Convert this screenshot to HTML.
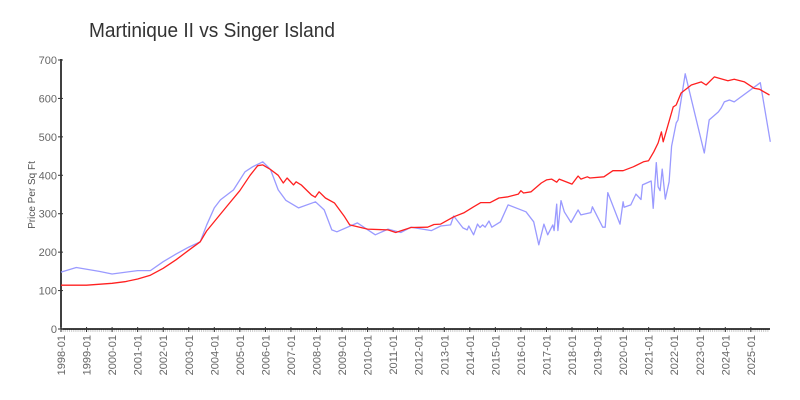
<!DOCTYPE html>
<html><head><meta charset="utf-8"><style>
body{margin:0;background:#fff;}
svg{display:block;font-family:"Liberation Sans Narrow","Liberation Sans",sans-serif;}
</style></head><body>
<svg id="chart" width="800" height="400" viewBox="0 0 800 400">
<text x="89" y="37" font-size="20" fill="#333" font-family="'Liberation Sans', sans-serif" textLength="246" lengthAdjust="spacingAndGlyphs">Martinique II vs Singer Island</text>
<text transform="translate(35,195) rotate(-90)" text-anchor="middle" font-size="10" fill="#555">Price Per Sq Ft</text>
<g id="axes"></g>
<g id="series"></g>
</svg>
<script>
const yTicks=[0,100,200,300,400,500,600,700];
const xYears=[1998,1999,2000,2001,2002,2003,2004,2005,2006,2007,2008,2009,2010,2011,2012,2013,2014,2015,2016,2017,2018,2019,2020,2021,2022,2023,2024,2025];
const martDates=[1998,1999,2000,2000.5,2001,2001.5,2002,2002.5,2003,2003.45,2003.7,2004.5,2005,2005.4,2005.7,2005.9,2006.2,2006.5,2006.7,2006.85,2007.1,2007.2,2007.4,2007.8,2007.95,2008.1,2008.35,2008.7,2009.1,2009.3,2010,2010.8,2011.1,2011.7,2012.35,2012.6,2012.86,2013.37,2013.76,2014.15,2014.43,2014.8,2015.14,2015.5,2015.9,2016,2016.1,2016.4,2016.8,2017,2017.2,2017.4,2017.5,2018,2018.24,2018.35,2018.6,2018.7,2019.25,2019.6,2020,2020.4,2020.8,2021,2021.2,2021.37,2021.5,2021.57,2021.96,2022.08,2022.27,2022.67,2023.06,2023.25,2023.57,2024.1,2024.35,2024.75,2025.14,2025.33,2025.73];
const martVals=[114,114,119,123,130,140,158,180,205,227,255,320,360,400,425,427,415,400,380,393,375,383,375,349,343,357,341,328,292,271,260,258,251,264,265,272,273,292,302,318,329,329,341,344,351,360,354,357,380,388,390,382,390,377,398,390,396,393,396,412,412,422,435,438,461,484,513,487,578,583,614,635,643,635,656,646,650,643,626,624,609];
const singDates=[1998,1998.6,1999.5,2000,2001,2001.5,2002,2002.5,2003,2003.45,2003.7,2004,2004.24,2004.75,2005.2,2005.5,2005.9,2006.2,2006.5,2006.8,2007.3,2007.96,2008.3,2008.6,2008.8,2009.6,2010.3,2010.8,2011.3,2011.7,2012.5,2012.86,2013.25,2013.37,2013.73,2013.9,2013.96,2014.15,2014.3,2014.4,2014.5,2014.6,2014.75,2014.86,2015.2,2015.5,2016.2,2016.5,2016.7,2016.9,2017.05,2017.25,2017.3,2017.4,2017.45,2017.57,2017.7,2017.96,2018.24,2018.35,2018.74,2018.8,2019.2,2019.3,2019.4,2019.88,2020,2020.04,2020.3,2020.5,2020.7,2020.76,2021.1,2021.18,2021.3,2021.37,2021.45,2021.53,2021.65,2021.8,2021.9,2022.08,2022.15,2022.43,2023.18,2023.37,2023.73,2023.84,2023.96,2024.16,2024.35,2025.37,2025.76];
const singVals=[148,160,150,143,152,152,175,195,213,227,270,315,336,362,409,422,435,415,362,335,315,331,310,258,253,276,245,260,251,265,256,268,271,294,263,258,268,245,273,264,271,265,281,265,279,323,305,279,219,273,245,271,256,325,256,334,305,277,310,297,303,318,265,265,355,273,331,317,323,351,337,375,385,314,433,370,360,416,338,383,476,536,544,664,458,544,565,575,591,596,591,641,487];
const X0=61,YR=25.55,Y0=329,PY=0.3843;
const xs=d=>X0+(d-1998)*YR;
const ys=v=>Y0-v*PY;
const NS='http://www.w3.org/2000/svg';
const ax=document.getElementById('axes'),sg=document.getElementById('series');
function mk(tag,attrs,parent){const e=document.createElementNS(NS,tag);for(const k in attrs)e.setAttribute(k,attrs[k]);parent.appendChild(e);return e;}
for(let m=0;m<=12*27+11;m++){const x=xs(1998+m/12);if(x>770)break;
const t=mk('line',{x1:x,x2:x,y1:Y0,y2:Y0+3,stroke:'#ccc','stroke-width':1},ax);

}
const yl=mk('line',{x1:X0,x2:X0,y1:59,y2:Y0,stroke:'#000','stroke-width':1.5},ax);


const xl=mk('line',{x1:X0,x2:770,y1:Y0,y2:Y0,stroke:'#000','stroke-width':1.5},ax);


yTicks.forEach(v=>{const y=ys(v);
const t=mk('line',{x1:X0-3,x2:X0+2,y1:y,y2:y,stroke:'#333','stroke-width':1},ax);


const l=mk('text',{x:X0-4,y:y+4,'text-anchor':'end','font-size':11,fill:'#666'},ax);l.textContent=v;

});
xYears.forEach(yr=>{const x=xs(yr);
const t=mk('line',{x1:x,x2:x,y1:Y0-2,y2:Y0+3,stroke:'#333','stroke-width':1},ax);


const l=mk('text',{transform:`translate(${x+4},${Y0+6}) rotate(-90)`,'text-anchor':'end','font-size':11,fill:'#666'},ax);l.textContent=yr+'-01';

});
function line(d,v){return d.map((t,i)=>(i?'L':'M')+xs(t).toFixed(1)+' '+ys(v[i]).toFixed(1)).join(' ');}
const pb=mk('path',{d:line(singDates,singVals),fill:'none',stroke:'#9a9aff','stroke-width':1.3,'stroke-linejoin':'round'},sg);


const pr=mk('path',{d:line(martDates,martVals),fill:'none',stroke:'#ff2020','stroke-width':1.3,'stroke-linejoin':'round'},sg);


</script>
</body></html>
